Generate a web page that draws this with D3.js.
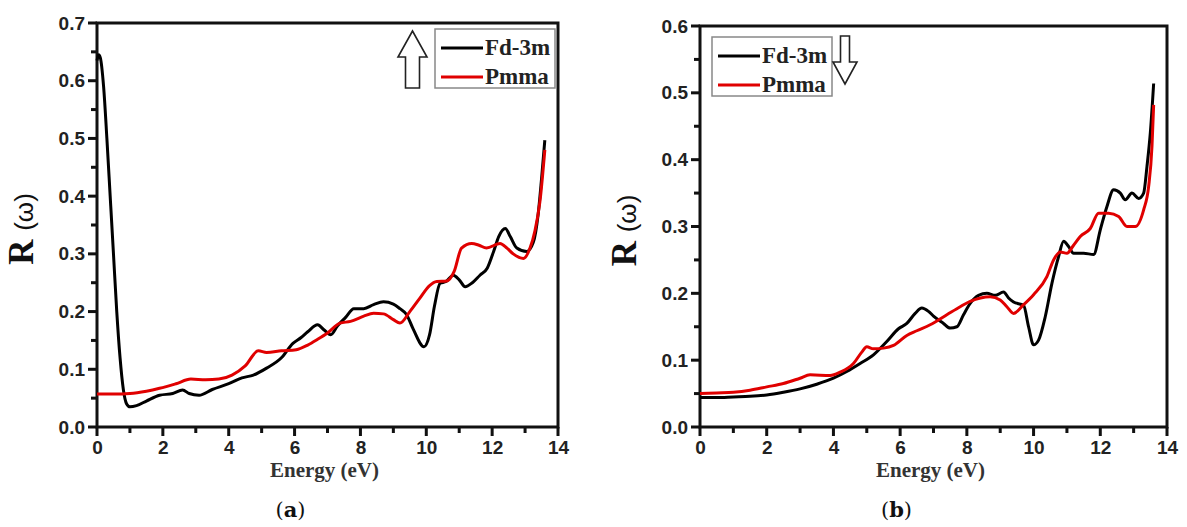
<!DOCTYPE html>
<html>
<head>
<meta charset="utf-8">
<script src="https://cdn.jsdelivr.net/npm/d3@7"></script>
<style>
  body { margin: 0; background: #fff; }
  svg { display: block; }
  .tick text { font-family: "Liberation Sans", Arial, sans-serif; font-weight: bold; font-size: 19px; fill: #222; }
</style>
</head>
<body>
<svg id="chart" width="1187" height="527"></svg>
<script>
// tick values
var xTicks = [0, 2, 4, 6, 8, 10, 12, 14];
var xMinor = [1, 3, 5, 7, 9, 11, 13];
var yTicksA = [0, 0.1, 0.2, 0.3, 0.4, 0.5, 0.6, 0.7];
var yMinorA = [0.05, 0.15, 0.25, 0.35, 0.45, 0.55, 0.65];
var yTicksB = [0, 0.1, 0.2, 0.3, 0.4, 0.5, 0.6];
var yMinorB = [0.05, 0.15, 0.25, 0.35, 0.45, 0.55];
var seriesNames = ["Fd-3m", "Pmma"];
var seriesColors = ["#000000", "#e00000"];

// (a) spin up  -- [energy eV, R]
var fdA = [[0,0.635],[0.05,0.645],[0.1,0.64],[0.2,0.59],[0.3,0.50],[0.4,0.40],[0.5,0.30],[0.6,0.20],
  [0.7,0.12],[0.8,0.065],[0.9,0.04],[1.0,0.035],[1.2,0.037],[1.5,0.045],[1.9,0.055],[2.3,0.058],
  [2.6,0.064],[2.8,0.058],[3.1,0.055],[3.5,0.065],[4.0,0.075],[4.4,0.085],[4.75,0.09],[5.15,0.102],
  [5.6,0.12],[5.95,0.145],[6.2,0.155],[6.4,0.165],[6.7,0.177],[6.9,0.168],[7.1,0.16],[7.3,0.175],
  [7.55,0.19],[7.8,0.205],[8.1,0.205],[8.4,0.212],[8.7,0.217],[9.0,0.213],[9.2,0.205],[9.4,0.195],
  [9.6,0.17],[9.93,0.139],[10.1,0.16],[10.25,0.21],[10.42,0.249],[10.6,0.252],[10.82,0.263],
  [11.0,0.255],[11.18,0.243],[11.4,0.25],[11.63,0.263],[11.85,0.275],[12.05,0.305],[12.2,0.33],
  [12.4,0.344],[12.55,0.33],[12.75,0.31],[13.05,0.304],[13.25,0.32],[13.4,0.37],[13.5,0.43],[13.6,0.497]];
var pmmaA = [[0,0.057],[0.5,0.057],[1.0,0.058],[1.5,0.062],[1.9,0.067],[2.4,0.075],[2.85,0.083],
  [3.3,0.082],[3.7,0.083],[4.1,0.09],[4.5,0.106],[4.9,0.132],[5.15,0.129],[5.6,0.132],[6.05,0.134],
  [6.4,0.142],[6.7,0.152],[7.0,0.163],[7.38,0.18],[7.7,0.183],[8.1,0.192],[8.4,0.197],[8.7,0.196],
  [9.0,0.186],[9.2,0.18],[9.5,0.2],[9.8,0.223],[10.1,0.245],[10.32,0.252],[10.62,0.253],[10.85,0.27],
  [11.07,0.31],[11.38,0.318],[11.6,0.315],[11.83,0.31],[12.24,0.318],[12.45,0.31],[12.64,0.3],
  [12.95,0.292],[13.15,0.31],[13.3,0.34],[13.45,0.39],[13.6,0.48]];

// (b) spin down
var fdB = [[0,0.044],[0.5,0.044],[1,0.045],[1.5,0.046],[2,0.048],[2.5,0.052],[3,0.057],[3.5,0.064],
  [4,0.073],[4.4,0.083],[4.8,0.095],[5.2,0.108],[5.6,0.128],[5.95,0.147],[6.2,0.155],[6.45,0.17],
  [6.65,0.178],[6.85,0.173],[7.0,0.166],[7.3,0.155],[7.5,0.148],[7.7,0.15],[7.9,0.168],[8.1,0.185],
  [8.35,0.197],[8.6,0.2],[8.85,0.197],[9.1,0.202],[9.25,0.193],[9.4,0.187],[9.7,0.182],[9.85,0.15],
  [10.0,0.123],[10.15,0.13],[10.35,0.165],[10.55,0.215],[10.75,0.255],[10.9,0.278],[11.05,0.27],
  [11.2,0.26],[11.5,0.26],[11.8,0.258],[12.0,0.295],[12.2,0.33],[12.4,0.355],[12.6,0.35],[12.75,0.34],
  [12.95,0.35],[13.15,0.342],[13.3,0.35],[13.4,0.39],[13.5,0.44],[13.6,0.514]];
var pmmaB = [[0,0.05],[0.5,0.051],[1,0.052],[1.5,0.055],[2,0.06],[2.5,0.065],[3,0.073],[3.3,0.078],
  [3.9,0.077],[4.2,0.082],[4.6,0.095],[4.85,0.112],[5.0,0.12],[5.2,0.117],[5.5,0.118],[5.8,0.122],
  [6.2,0.137],[6.5,0.144],[6.9,0.153],[7.4,0.168],[7.8,0.18],[8.1,0.188],[8.7,0.195],[9.0,0.19],
  [9.2,0.18],[9.4,0.17],[9.7,0.183],[10.0,0.198],[10.4,0.225],[10.6,0.25],[10.8,0.262],[11.0,0.26],
  [11.2,0.272],[11.4,0.285],[11.7,0.297],[11.95,0.32],[12.25,0.32],[12.55,0.315],[12.8,0.3],
  [13.05,0.3],[13.3,0.325],[13.45,0.36],[13.55,0.42],[13.6,0.482]];

var svg = d3.select("#chart");

function arrow(g, x0, x1, yTip, yEnd, yHead, shaft) {
  // hollow block arrow; tip at yTip, tail at yEnd
  var cx = (x0 + x1) / 2;
  var pts = [[cx, yTip], [x1, yHead], [cx + shaft / 2, yHead], [cx + shaft / 2, yEnd],
             [cx - shaft / 2, yEnd], [cx - shaft / 2, yHead], [x0, yHead]];
  g.append("path")
    .attr("d", d3.line()(pts) + "Z")
    .attr("fill", "#fff")
    .attr("stroke", "#222")
    .attr("stroke-width", 1.6)
    .attr("stroke-linejoin", "miter");
}

function panel(opts) {
  var x = d3.scaleLinear().domain([0, 14]).range([opts.left, opts.right]);
  var y = d3.scaleLinear().domain([0, opts.yMax]).range([opts.bottom, opts.top]);
  var g = svg.append("g");

  // tick labels via d3 axes
  g.append("g")
    .attr("transform", "translate(0," + opts.bottom + ")")
    .call(d3.axisBottom(x).tickValues(xTicks).tickSize(9).tickPadding(5).tickFormat(d3.format("d")))
    .call(function (s) { s.select(".domain").remove(); s.selectAll(".tick line").remove(); });
  g.append("g")
    .attr("transform", "translate(" + opts.left + ",0)")
    .call(d3.axisLeft(y).tickValues(opts.yTicks).tickSize(9).tickPadding(3).tickFormat(d3.format(".1f")))
    .call(function (s) { s.select(".domain").remove(); s.selectAll(".tick line").remove(); });

  // tick marks
  var tk = g.append("g").attr("fill", "#111");
  function xt(vals, len) {
    tk.selectAll(null).data(vals).enter().append("rect")
      .attr("x", function (d) { return x(d) - 1.5; }).attr("width", 3)
      .attr("y", opts.bottom).attr("height", len);
  }
  function yt(vals, len) {
    tk.selectAll(null).data(vals).enter().append("rect")
      .attr("y", function (d) { return y(d) - 1.5; }).attr("height", 3)
      .attr("x", opts.left - len).attr("width", len);
  }
  xt(xTicks, 9); xt(xMinor, 6);
  yt(opts.yTicks, 9); yt(opts.yMinor, 6);

  // frame
  g.append("rect")
    .attr("x", opts.left).attr("y", opts.top)
    .attr("width", opts.right - opts.left).attr("height", opts.bottom - opts.top)
    .attr("fill", "none").attr("stroke", "#111").attr("stroke-width", 3);

  var line = d3.line()
    .x(function (d) { return x(d[0]); })
    .y(function (d) { return y(d[1]); })
    .curve(d3.curveMonotoneX);

  opts.series.forEach(function (s, i) {
    g.append("path")
      .datum(s)
      .attr("fill", "none")
      .attr("stroke", seriesColors[i])
      .attr("stroke-width", 3)
      .attr("stroke-linejoin", "round")
      .attr("d", line);
  });

  // axis titles
  g.append("text")
    .attr("x", (opts.left + opts.right) / 2 - 3)
    .attr("y", 477)
    .attr("text-anchor", "middle")
    .style("font-family", "'Liberation Serif', 'Times New Roman', serif")
    .style("font-weight", "bold").style("font-size", "21px").attr("fill", "#333")
    .text("Energy (eV)");

  var yl = g.append("text")
    .attr("transform", "translate(" + (opts.left - 64) + "," + ((opts.top + opts.bottom) / 2 + 4) + ") rotate(-90)")
    .attr("text-anchor", "middle")
    .attr("fill", "#111");
  yl.append("tspan")
    .style("font-family", "'Liberation Serif', 'Times New Roman', serif")
    .style("font-weight", "bold").style("font-size", "35px")
    .text("R ");
  yl.append("tspan")
    .style("font-family", "'Liberation Sans', Arial, sans-serif")
    .style("font-size", "26px")
    .text("(\u03c9)");

  var cap = g.append("text")
    .attr("x", (opts.left + opts.right) / 2 - 37)
    .attr("y", 517)
    .attr("text-anchor", "middle")
    .style("font-family", "'DejaVu Serif', serif")
    .style("font-size", "21px").attr("fill", "#111");
  cap.append("tspan").text("(");
  cap.append("tspan").style("font-weight", "bold").text(opts.tag);
  cap.append("tspan").text(")");

  // legend
  var lg = g.append("g").attr("transform", "translate(" + opts.legX + "," + opts.legY + ")");
  lg.append("rect")
    .attr("width", 120).attr("height", 59)
    .attr("fill", "#fff").attr("stroke", "#888").attr("stroke-width", 1.5);
  seriesNames.forEach(function (n, i) {
    var yy = 19 + i * 29;
    lg.append("line")
      .attr("x1", 6).attr("x2", 48).attr("y1", yy).attr("y2", yy)
      .attr("stroke", seriesColors[i]).attr("stroke-width", 3);
    lg.append("text")
      .attr("x", 50).attr("y", yy + 7)
      .style("font-family", "'Liberation Serif', 'Times New Roman', serif")
      .style("font-weight", "bold").style("font-size", "23px").attr("fill", "#222")
      .text(n);
  });

  return g;
}

var ga = panel({ left: 97, right: 558, top: 23, bottom: 427, yMax: 0.7, yTicks: yTicksA, yMinor: yMinorA,
  series: [fdA, pmmaA], tag: "a", legX: 435, legY: 29 });
arrow(ga, 398, 427, 31, 88, 57, 14);

var gb = panel({ left: 700, right: 1167, top: 26, bottom: 427, yMax: 0.6, yTicks: yTicksB, yMinor: yMinorB,
  series: [fdB, pmmaB], tag: "b", legX: 712, legY: 37 });
arrow(gb, 833, 857, 84, 36, 62, 9);
</script>
</body>
</html>
